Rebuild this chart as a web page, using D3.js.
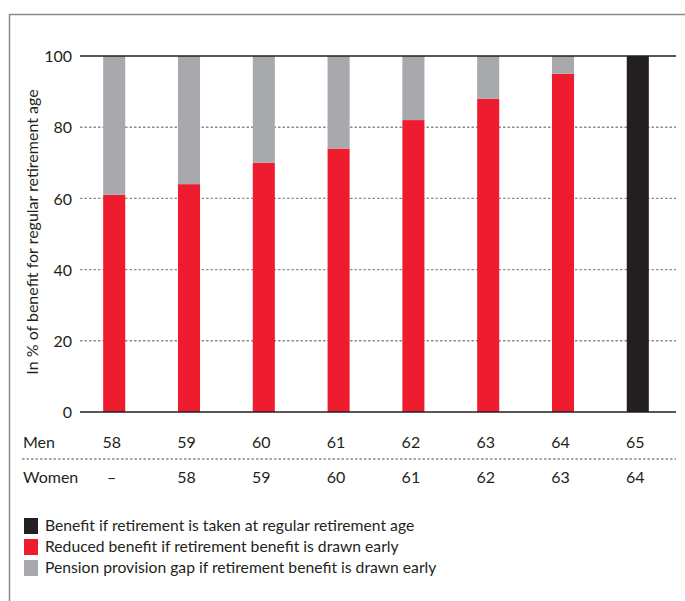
<!DOCTYPE html>
<html><head><meta charset="utf-8">
<script src="https://cdn.jsdelivr.net/npm/d3@7"></script>
<style>
html,body{margin:0;padding:0;background:#fff;}
svg{display:block;}
text{font-family:Lato, "Liberation Sans", sans-serif;fill:#231f20;}
</style></head>
<body>
<script>
const menAges = ["58","59","60","61","62","63","64","65"];
const womenAges = ["–","58","59","60","61","62","63","64"];
const reducedBenefit = [61,64,70,74,82,88,95,0];
const provisionGap = [39,36,30,26,18,12,5,0];
const regularBenefit = [0,0,0,0,0,0,0,100];
const yTicks = [0,20,40,60,80,100];
const seriesNames = [
  "Benefit if retirement is taken at regular retirement age",
  "Reduced benefit if retirement benefit is drawn early",
  "Pension provision gap if retirement benefit is drawn early"
];
const colors = {regular:"#231f20", reduced:"#ee1c2e", gap:"#a7a9ac"};

const W=685,H=601;
const svg=d3.select("body").append("svg").attr("width",W).attr("height",H);

// frame
svg.append("line").attr("x1",9.5).attr("x2",W).attr("y1",14.5).attr("y2",14.5).attr("stroke","#8a8a8a").attr("stroke-width",1.5);
svg.append("line").attr("x1",9.5).attr("x2",9.5).attr("y1",14).attr("y2",H).attr("stroke","#8a8a8a").attr("stroke-width",1.5);

const x=d3.scaleBand().domain(menAges).range([77,675]).paddingInner(0.705).paddingOuter(0.35);
const y=d3.scaleLinear().domain([0,100]).range([412,56]);
const lineX0=80, lineX1=676;

// gridlines
svg.append("g").selectAll("line").data(yTicks.filter(d=>d>0&&d<100)).join("line")
  .attr("x1",lineX0).attr("x2",lineX1).attr("y1",d=>y(d)).attr("y2",d=>y(d))
  .attr("stroke","#8c8c8c").attr("stroke-width",1.4).attr("stroke-dasharray","2.5,2");

// y axis ticks labels
const yAxis=d3.axisLeft(y).tickValues(yTicks).tickSize(0).tickPadding(0);
const gy=svg.append("g").attr("transform","translate(72,0)").call(yAxis);
gy.select(".domain").remove();
gy.selectAll("text").attr("font-size",16).attr("font-family","Lato").attr("fill","#231f20").attr("dy","0.35em");

// bars
const data=menAges.map((m,i)=>({m,reg:regularBenefit[i],red:reducedBenefit[i],gap:provisionGap[i]}));
const bw=x.bandwidth();
svg.append("g").selectAll("rect.red").data(data.filter(d=>d.red>0)).join("rect")
  .attr("x",d=>x(d.m)).attr("width",bw).attr("y",d=>y(d.red)).attr("height",d=>y(0)-y(d.red)).attr("fill",colors.reduced);
svg.append("g").selectAll("rect.gap").data(data.filter(d=>d.gap>0)).join("rect")
  .attr("x",d=>x(d.m)).attr("width",bw).attr("y",d=>y(d.red+d.gap)).attr("height",d=>y(d.red)-y(d.red+d.gap)).attr("fill",colors.gap);
svg.append("g").selectAll("rect.reg").data(data.filter(d=>d.reg>0)).join("rect")
  .attr("x",d=>x(d.m)).attr("width",bw).attr("y",d=>y(d.reg)).attr("height",d=>y(0)-y(d.reg)).attr("fill",colors.regular);

// 0 and 100 lines
[0,100].forEach(v=>{
  svg.append("line").attr("x1",lineX0).attr("x2",lineX1).attr("y1",y(v)).attr("y2",y(v)).attr("stroke","#231f20").attr("stroke-width",1.6);
});

// y label
svg.append("text").attr("transform","translate(38,232) rotate(-90)").attr("text-anchor","middle")
  .attr("font-size",16).text("In % of benefit for regular retirement age");

// category rows
const xAxis=d3.axisBottom(x).tickSize(0).tickPadding(0);
const gm=svg.append("g").attr("transform","translate(-2.5,448)").call(xAxis);
gm.select(".domain").remove();
gm.selectAll("text").attr("font-size",16).attr("font-family","Lato").attr("fill","#231f20").attr("dy",0);
svg.append("text").attr("x",23).attr("y",448).attr("font-size",16).text("Men");

svg.append("line").attr("x1",22).attr("x2",lineX1).attr("y1",459).attr("y2",459)
  .attr("stroke","#8c8c8c").attr("stroke-width",1.3).attr("stroke-dasharray","2.5,2");

svg.append("g").selectAll("text").data(menAges.map((m,i)=>({m,w:womenAges[i]}))).join("text")
  .attr("x",d=>x(d.m)+bw/2-2.5).attr("y",483).attr("text-anchor","middle").attr("font-size",16).text(d=>d.w);
svg.append("text").attr("x",23).attr("y",483).attr("font-size",16).text("Women");

// legend
const lg=svg.append("g");
const legColors=[colors.regular,colors.reduced,colors.gap];
seriesNames.forEach((n,i)=>{
  const yy=518+i*21;
  lg.append("rect").attr("x",24).attr("y",yy).attr("width",14).attr("height",16).attr("fill",legColors[i]);
  lg.append("text").attr("x",45).attr("y",yy+13).attr("font-size",15.7).text(n);
});
</script>
</body></html>
